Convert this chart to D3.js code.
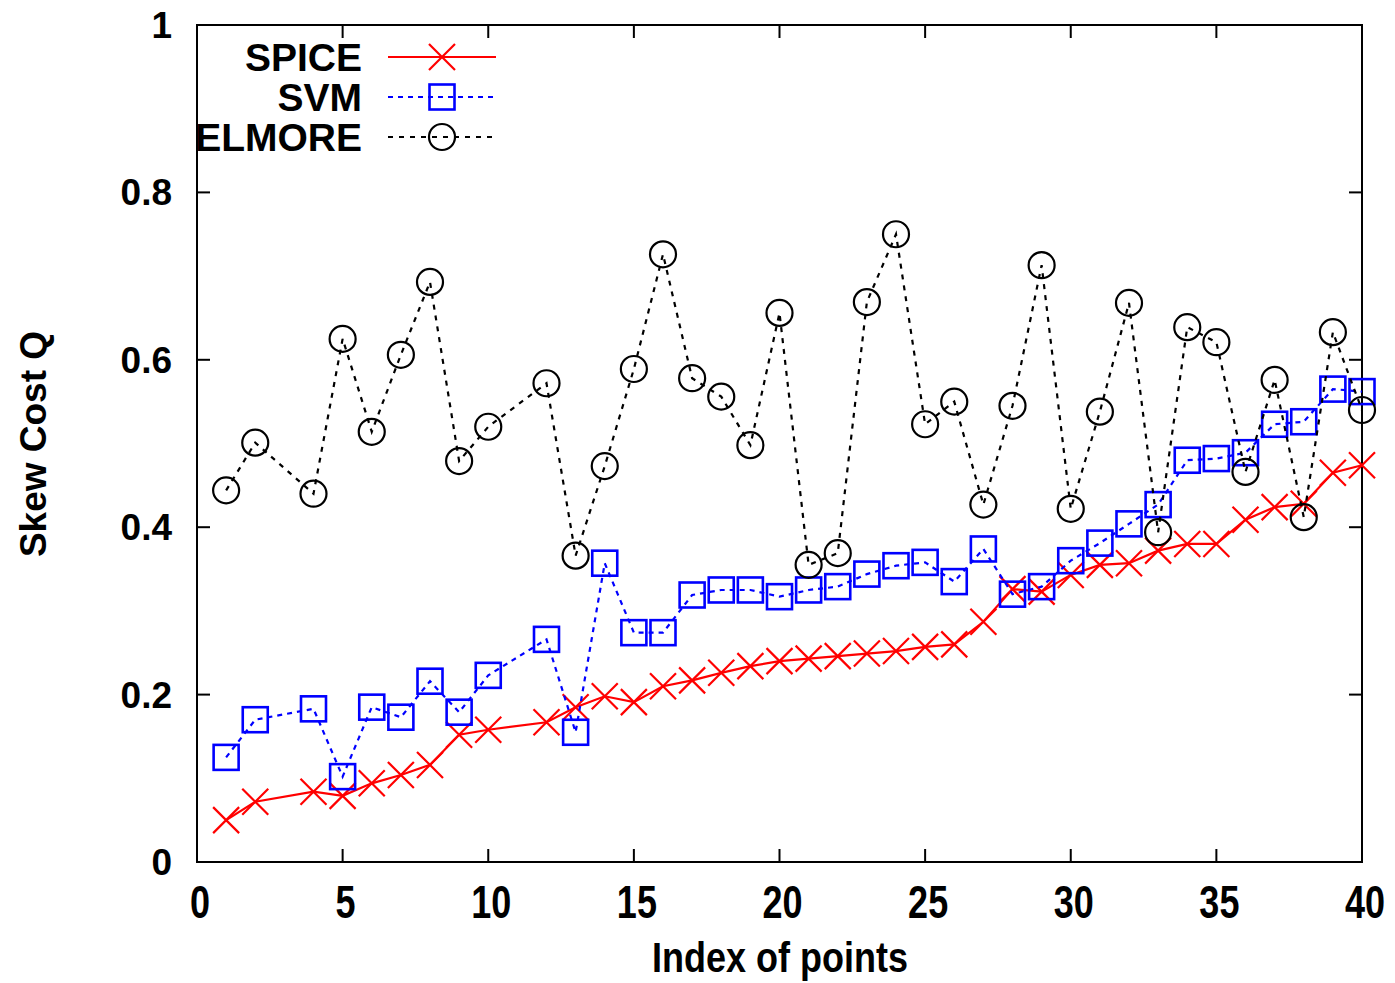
<!DOCTYPE html>
<html>
<head>
<meta charset="utf-8">
<script src="https://cdn.jsdelivr.net/npm/d3@7"></script>
<style>
  html, body { margin: 0; padding: 0; background: #fff; }
  svg { display: block; font-family: "Liberation Sans", Arial, Helvetica, sans-serif; font-weight: bold; }
</style>
</head>
<body>
<script>
const indices = [1,2,4,5,6,7,8,9,10,12,13,14,15,16,17,18,19,20,21,22,23,24,25,26,27,28,29,30,31,32,33,34,35,36,37,38,39,40];
const spice  = [0.050,0.072,0.084,0.079,0.094,0.104,0.116,0.152,0.158,0.167,0.185,0.198,0.191,0.210,0.217,0.226,0.234,0.240,0.243,0.246,0.249,0.252,0.257,0.260,0.287,0.326,0.323,0.343,0.355,0.357,0.372,0.380,0.380,0.409,0.424,0.428,0.465,0.474];
const svm    = [0.125,0.170,0.183,0.102,0.185,0.173,0.216,0.179,0.223,0.266,0.155,0.357,0.274,0.274,0.319,0.325,0.325,0.317,0.325,0.329,0.344,0.354,0.358,0.335,0.374,0.320,0.329,0.360,0.381,0.404,0.427,0.480,0.482,0.489,0.523,0.526,0.565,0.562];
const elmore = [0.444,0.501,0.440,0.625,0.514,0.606,0.693,0.479,0.520,0.572,0.366,0.473,0.589,0.726,0.578,0.556,0.498,0.656,0.355,0.369,0.669,0.750,0.523,0.550,0.427,0.545,0.713,0.422,0.538,0.668,0.394,0.639,0.621,0.466,0.576,0.412,0.633,0.540];
const seriesNames = ["SPICE","SVM","ELMORE"];
const xTicks = [0,5,10,15,20,25,30,35,40];
const yTicks = [0,0.2,0.4,0.6,0.8,1];
const xTitle = "Index of points";
const yTitle = "Skew Cost Q";

const W = 1395, H = 983;
const L = 197, R = 1362, T = 25, B = 862;
const x = d3.scaleLinear().domain([0,40]).range([L,R]);
const y = d3.scaleLinear().domain([0,1]).range([B,T]);

const svg = d3.select("body").append("svg").attr("width",W).attr("height",H);

const series = [
  {name: seriesNames[0], values: spice,  color:"#ff0000", dash:null,  marker:"cross"},
  {name: seriesNames[1], values: svm,    color:"#0000ff", dash:"5,5", marker:"square"},
  {name: seriesNames[2], values: elmore, color:"#000000", dash:"5,6", marker:"circle"}
];

// ticks (mirrored, inward)
const tl = 13;
const tg = svg.append("g").attr("stroke","#000").attr("stroke-width",2);
xTicks.forEach(v => {
  tg.append("line").attr("x1",x(v)).attr("x2",x(v)).attr("y1",B).attr("y2",B-tl);
  tg.append("line").attr("x1",x(v)).attr("x2",x(v)).attr("y1",T).attr("y2",T+tl);
});
yTicks.forEach(v => {
  tg.append("line").attr("x1",L).attr("x2",L+tl).attr("y1",y(v)).attr("y2",y(v));
  tg.append("line").attr("x1",R).attr("x2",R-tl).attr("y1",y(v)).attr("y2",y(v));
});

// tick labels
svg.append("g").selectAll("text").data(yTicks).join("text")
  .attr("x", 172).attr("y", d => y(d)).attr("dy","0.35em")
  .attr("text-anchor","end").attr("font-size",37).text(d => d3.format("")(+d.toFixed(1)));

svg.append("g").selectAll("text").data(xTicks).join("text")
  .attr("text-anchor","middle").attr("font-size",36)
  .attr("transform", d => `translate(${x(d)+3},${918}) scale(1,1.3)`)
  .text(d => d);

// axis titles
svg.append("text").attr("text-anchor","middle").attr("font-size",36)
  .attr("transform", `translate(780,972) scale(1,1.2)`).text(xTitle);
svg.append("text").attr("text-anchor","middle").attr("font-size",37)
  .attr("transform", `translate(46,444) rotate(-90)`).text(yTitle);

// frame
svg.append("rect").attr("x",L).attr("y",T).attr("width",R-L).attr("height",B-T)
  .attr("fill","none").attr("stroke","#000").attr("stroke-width",2);

function drawMarker(g, type, cx, cy, color) {
  if (type === "cross") {
    const s = 13;
    g.append("path").attr("d",`M${cx-s},${cy-s}L${cx+s},${cy+s}M${cx-s},${cy+s}L${cx+s},${cy-s}`)
      .attr("stroke",color).attr("stroke-width",2.2).attr("fill","none");
  } else if (type === "square") {
    const s = 12.5;
    g.append("rect").attr("x",cx-s).attr("y",cy-s).attr("width",2*s).attr("height",2*s)
      .attr("stroke",color).attr("stroke-width",2.6).attr("fill","none");
  } else {
    g.append("circle").attr("cx",cx).attr("cy",cy).attr("r",13)
      .attr("stroke",color).attr("stroke-width",2.2).attr("fill","none");
  }
}

const line = d3.line().x(d => x(d[0])).y(d => y(d[1]));
series.forEach(s => {
  const pts = indices.map((xi,i) => [xi, s.values[i]]);
  const g = svg.append("g");
  g.append("path").attr("d", line(pts)).attr("fill","none")
    .attr("stroke", s.color).attr("stroke-width", 2.2)
    .attr("stroke-dasharray", s.dash);
  pts.forEach(p => drawMarker(g, s.marker, x(p[0]), y(p[1]), s.color));
});

// legend
const legY = [57, 97, 137];
series.forEach((s,i) => {
  const g = svg.append("g");
  g.append("text").attr("x",362).attr("y",legY[i]).attr("dy","0.36em")
    .attr("text-anchor","end").attr("font-size",39).text(s.name);
  g.append("line").attr("x1",388).attr("x2",496).attr("y1",legY[i]).attr("y2",legY[i])
    .attr("stroke",s.color).attr("stroke-width",2.2).attr("stroke-dasharray",s.dash);
  drawMarker(g, s.marker, 442, legY[i], s.color);
});
</script>
</body>
</html>
